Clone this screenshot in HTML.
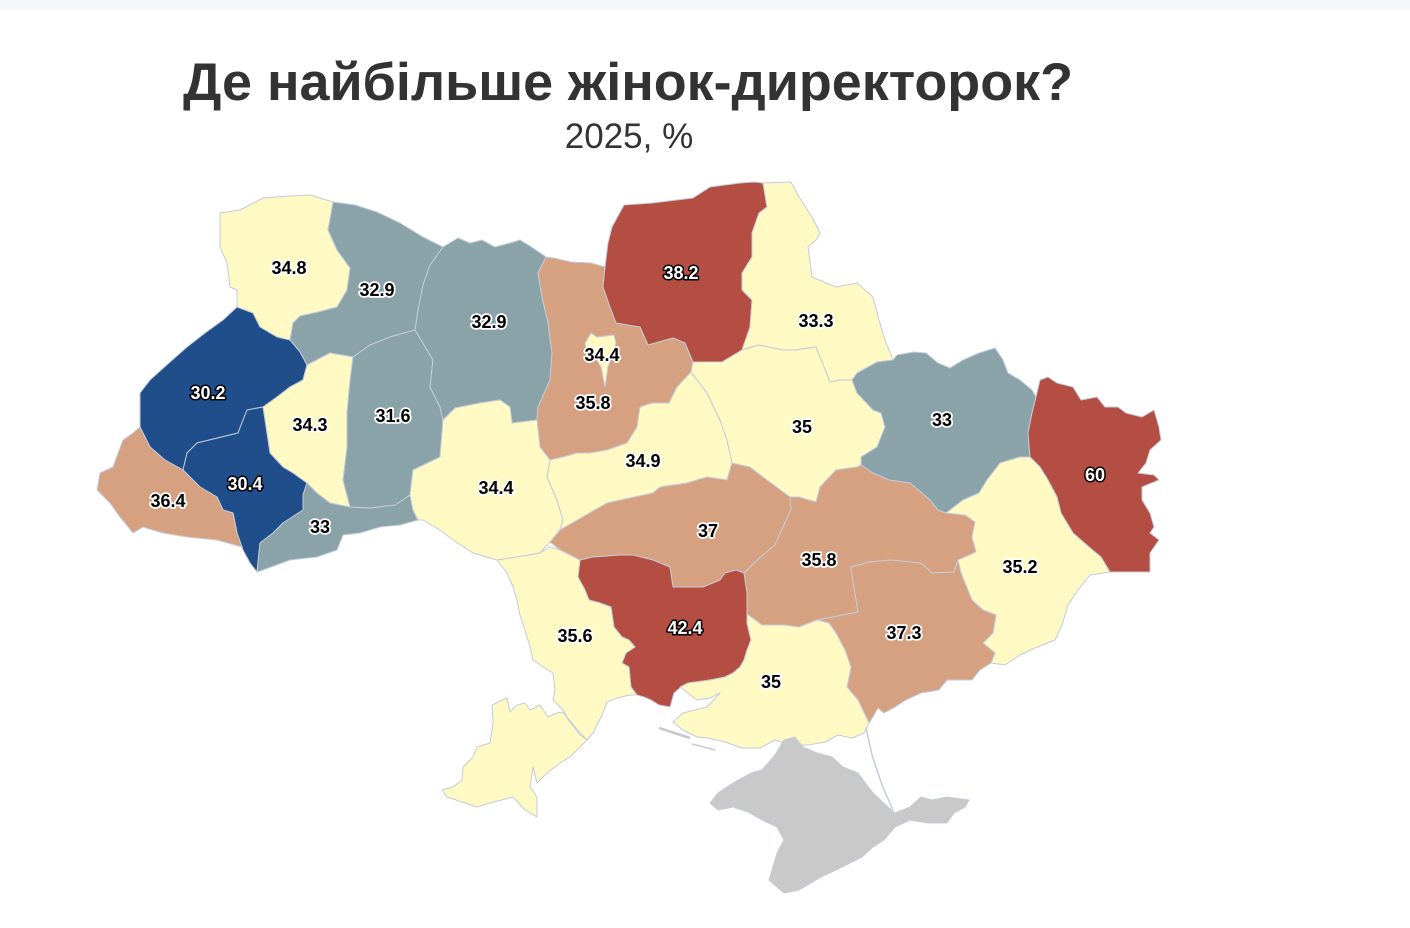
<!DOCTYPE html>
<html>
<head>
<meta charset="utf-8">
<style>
html,body{margin:0;padding:0;background:#fff;}
body{width:1410px;height:928px;overflow:hidden;position:relative;}
.topbar{position:absolute;left:0;top:0;width:1410px;height:10px;background:#f6f7f9;}
svg{position:absolute;left:0;top:0;}
.r{stroke:#c4cbd9;stroke-width:1;stroke-linejoin:round;}
.y{fill:#fff9c4;}
.g{fill:#8aa3a8;}
.b{fill:#1f4e8b;}
.t{fill:#d6a180;}
.d{fill:#b54e42;}
.c{fill:#c9c9c9;}
.lb{font-family:"Liberation Sans",Arial,sans-serif;font-weight:bold;font-size:18px;text-anchor:middle;paint-order:stroke;stroke-linejoin:round;}
.lk{fill:#000;stroke:#fff;stroke-width:3.5px;}
.lw{fill:#fff;stroke:#000;stroke-width:3px;}
</style>
</head>
<body>
<div class="topbar"></div>
<svg width="1410" height="928" viewBox="0 0 1410 928" xmlns="http://www.w3.org/2000/svg">
<text x="183" y="100" font-family="Liberation Sans, Arial, sans-serif" font-weight="bold" font-size="53" fill="#333" textLength="890" lengthAdjust="spacingAndGlyphs">Де найбільше жінок-директорок?</text>
<text x="629" y="148" font-family="Liberation Sans, Arial, sans-serif" font-size="35" fill="#333" text-anchor="middle">2025, %</text>

<!-- Volyn -->
<polygon class="r y" points="220,213 240,210 263,198 290,196 310,195 333,202 328,230 337,250 350,268 347,290 337,307 318,312 300,316 293,323 290,340 277,337 260,327 253,313 237,307 237,290 230,287 227,263 220,247"/>
<!-- Rivne -->
<polygon class="r g" points="333,202 355,205 377,212 400,223 423,237 443,247 430,265 423,285 418,310 415,330 390,337 370,345 353,357 330,353 307,365 300,352 290,340 293,323 300,316 318,312 337,307 347,290 350,268 337,250 328,230"/>
<!-- Lviv -->
<polygon class="r b" points="237,307 253,313 260,327 277,337 290,340 300,352 307,365 303,380 290,387 277,397 263,407 247,410 243,420 238,433 197,443 187,453 183,470 165,460 150,447 140,427 140,393 150,380 170,362 187,347 205,333 223,320"/>
<!-- Ternopil -->
<polygon class="r y" points="307,365 330,353 353,357 350,380 347,413 347,447 343,480 350,507 330,503 317,493 307,483 293,473 283,467 270,453 267,433 263,407 277,397 290,387 303,380"/>
<!-- Ivano-Frankivsk -->
<polygon class="r b" points="247,410 263,407 267,433 270,453 283,467 293,473 307,483 303,495 303,510 283,523 273,533 260,543 257,572 250,563 243,550 237,533 233,513 223,510 217,497 200,487 183,470 187,453 197,443 238,433 243,420"/>
<!-- Zakarpattia -->
<polygon class="r t" points="133,433 140,427 150,447 165,460 183,470 200,487 217,497 223,510 233,513 237,533 242,547 217,540 187,537 163,533 143,527 133,533 120,517 110,503 97,490 100,473 113,467 123,440"/>
<!-- Chernivtsi -->
<polygon class="r g" points="307,483 317,493 330,503 350,507 370,508 395,505 410,495 413,510 418,520 400,525 380,527 360,533 343,535 337,550 317,557 290,560 263,570 257,572 260,543 273,533 283,523 303,510 303,495"/>
<!-- Khmelnytskyi -->
<polygon class="r g" points="353,357 370,345 390,337 415,330 433,360 430,387 440,407 443,420 440,457 413,470 410,495 395,505 370,508 350,507 343,480 347,447 347,413 350,380"/>
<!-- Zhytomyr -->
<polygon class="r g" points="443,247 458,238 470,243 482,240 495,247 510,243 520,240 530,246 546,257 538,273 542,297 548,323 552,353 550,380 538,407 537,420 512,423 510,407 500,400 480,403 455,408 443,420 440,407 430,387 433,360 415,330 418,310 423,285 430,265"/>
<!-- Kyiv oblast -->
<polygon class="r t" points="546,257 554,258 571,262 591,263 605,267 603,287 610,307 616,323 640,327 648,345 673,338 685,343 693,362 691,372 677,387 669,403 652,403 640,407 637,427 627,443 607,450 590,453 577,453 563,457 550,460 540,447 537,420 538,407 550,380 552,353 548,323 542,297 538,273"/>
<!-- Kyiv city -->
<polygon class="r y" points="591,333 597,337 614,335 616,343 608,367 605,387 601,367 595,357 587,353 585,343"/>
<!-- Vinnytsia -->
<polygon class="r y" points="443,420 455,408 480,403 500,400 510,407 512,423 537,420 540,447 550,460 547,477 557,500 563,520 560,530 550,542 540,553 517,557 497,560 473,553 453,540 440,530 423,520 418,520 413,510 410,495 413,470 440,457"/>
<!-- Cherkasy -->
<polygon class="r y" points="550,460 563,457 577,453 590,453 607,450 627,443 637,427 640,407 652,403 669,403 677,387 691,372 707,393 720,420 727,440 732,463 727,480 707,477 687,483 660,487 653,493 607,503 600,507 560,530 563,520 557,500 547,477"/>
<!-- Kirovohrad -->
<polygon class="r t" points="560,530 600,507 607,503 653,493 660,487 687,483 707,477 727,480 732,463 750,467 767,480 790,497 791,510 783,527 775,545 763,555 752,565 744,573 736,570 725,573 720,580 703,587 673,587 670,567 653,560 633,555 620,555 593,557 580,560 570,555 560,550 550,542"/>
<!-- Chernihiv -->
<polygon class="r d" points="624,205 652,203 693,198 710,187 740,183 754,182 763,183 767,207 759,213 752,233 752,257 742,273 742,290 752,300 750,327 742,350 722,362 693,362 685,343 673,338 648,345 640,327 616,323 610,307 603,287 605,267 608,243 612,227"/>
<!-- Sumy -->
<polygon class="r y" points="763,183 791,182 799,197 812,217 820,233 816,240 808,247 812,277 836,287 857,283 873,297 879,320 885,340 893,360 877,362 857,373 852,380 840,380 830,382 824,367 816,347 795,350 783,350 759,345 742,350 750,327 752,300 742,290 742,273 752,257 752,233 759,213 767,207"/>
<!-- Poltava -->
<polygon class="r y" points="691,372 693,362 722,362 742,350 759,345 783,350 795,350 816,347 824,367 830,382 840,380 852,380 857,393 873,410 881,413 885,427 881,437 877,447 861,457 861,465 857,467 836,470 820,487 816,502 799,497 790,497 767,480 750,467 732,463 727,440 720,420 707,393"/>
<!-- Kharkiv -->
<polygon class="r g" points="852,380 857,373 877,362 893,360 897,355 914,352 926,353 938,363 950,368 963,360 979,353 995,348 1003,360 1008,373 1020,380 1032,390 1036,397 1032,413 1028,433 1030,457 1020,457 1000,463 987,480 979,493 963,500 946,513 938,510 930,500 922,493 910,483 889,480 873,473 861,465 861,457 877,447 881,437 885,427 881,413 873,410 857,393"/>
<!-- Luhansk -->
<polygon class="r d" points="1036,397 1040,380 1048,377 1057,383 1073,387 1081,400 1097,397 1105,407 1118,407 1126,413 1142,417 1154,410 1159,427 1161,440 1150,450 1146,463 1138,473 1154,475 1159,480 1142,487 1142,500 1150,513 1154,527 1150,533 1159,540 1150,553 1150,572 1110,572 1101,557 1089,547 1073,533 1061,513 1057,497 1048,480 1040,467 1030,457 1028,433 1032,413"/>
<!-- Dnipro -->
<polygon class="r t" points="816,502 820,487 836,470 857,467 861,465 873,473 889,480 910,483 922,493 930,500 938,510 946,513 965,515 975,522 972,537 976,552 958,560 954,572 932,573 921,563 891,560 869,562 851,567 854,587 858,612 817,620 799,627 784,625 762,625 747,614 747,593 744,573 752,565 763,555 775,545 783,527 791,510 790,497 799,497"/>
<!-- Donetsk -->
<polygon class="r y" points="1030,457 1040,467 1048,480 1057,497 1061,513 1073,533 1089,547 1101,557 1110,572 1090,575 1078,590 1068,605 1062,625 1055,640 1035,648 1020,655 1005,665 991,663 995,653 983,643 993,633 996,615 983,610 972,600 961,573 958,560 976,552 972,537 975,522 965,515 946,513 963,500 979,493 987,480 1000,463 1020,457"/>
<!-- Zaporizhzhia -->
<polygon class="r t" points="958,560 961,573 972,600 983,610 996,615 993,633 983,643 995,653 991,663 980,670 972,680 947,680 939,690 921,693 906,700 895,707 884,713 878,708 873,717 869,723 858,700 847,687 851,667 845,650 836,633 829,623 817,620 858,612 854,587 851,567 869,562 891,560 921,563 932,573 954,572"/>
<!-- Mykolaiv -->
<polygon class="r d" points="580,560 593,557 620,555 633,555 653,560 670,567 673,587 703,587 720,580 725,573 736,570 744,573 747,593 747,614 747,623 751,640 747,650 744,660 740,667 733,673 725,677 710,680 688,683 681,687 674,693 670,707 659,705 651,700 644,697 637,695 631,687 629,667 622,663 626,653 635,647 629,640 622,637 614,627 611,607 600,603 589,600 585,590 578,577"/>
<!-- Odesa main -->
<polygon class="r y" points="497,560 517,557 540,553 550,547 560,550 570,555 580,560 578,577 585,590 589,600 600,603 611,607 614,627 622,637 629,640 635,647 626,653 622,663 629,667 631,687 637,695 630,695 617,698 607,702 603,713 593,733 587,740 580,733 567,717 563,710 553,700 555,690 553,673 543,667 533,660 530,647 525,630 520,615 517,600 513,587 507,573"/>
<!-- Odesa Bessarabia -->
<polygon class="r y" points="492,705 507,698 510,712 517,705 525,703 530,710 540,705 548,717 557,713 563,712 570,722 580,735 587,740 570,757 560,763 547,773 537,783 533,767 530,787 537,797 537,817 525,810 513,797 490,803 477,807 447,797 442,790 453,787 462,780 463,767 473,757 477,747 490,743 493,723"/>
<!-- Kherson -->
<polygon class="r y" points="747,614 762,625 784,625 799,627 817,620 829,623 836,633 845,650 851,667 847,687 858,700 869,723 864,733 852,738 838,735 825,742 808,745 790,745 775,740 760,748 742,748 725,742 708,738 697,737 683,730 673,722 683,713 707,707 720,693 710,698 697,700 680,687 688,683 710,680 725,677 733,673 740,667 744,660 747,650 751,640 747,623"/>
<!-- Tendra spit -->
<line x1="659" y1="728" x2="690" y2="738" stroke="#c9c9c9" stroke-width="2.5"/>
<line x1="692" y1="744" x2="715" y2="750" stroke="#c4cbd9" stroke-width="1.5"/>
<!-- Arabat spit -->
<polyline points="866,728 872,755 882,785 893,810" fill="none" stroke="#c4cbd9" stroke-width="1.5"/>
<!-- Crimea -->
<polygon class="r c" points="710,803 718,793 733,783 751,773 762,770 775,755 784,740 795,737 803,747 817,753 832,757 843,767 858,773 873,793 888,807 895,813 910,807 921,797 932,800 947,797 969,800 965,807 954,813 947,823 928,823 910,820 895,827 884,840 873,847 862,857 836,870 821,877 799,890 784,893 777,887 769,880 773,867 777,853 784,840 777,827 762,820 748,812 733,807 718,810"/>

<!-- labels -->
<text class="lb lk" x="289" y="274">34.8</text>
<text class="lb lk" x="377" y="296">32.9</text>
<text class="lb lk" x="489" y="328">32.9</text>
<text class="lb lw" x="208" y="399">30.2</text>
<text class="lb lk" x="310" y="431">34.3</text>
<text class="lb lk" x="393" y="422">31.6</text>
<text class="lb lw" x="245" y="490">30.4</text>
<text class="lb lk" x="168" y="507">36.4</text>
<text class="lb lk" x="320" y="533">33</text>
<text class="lb lk" x="496" y="494">34.4</text>
<text class="lb lk" x="602" y="361">34.4</text>
<text class="lb lk" x="593" y="409">35.8</text>
<text class="lb lw" x="681" y="279">38.2</text>
<text class="lb lk" x="816" y="327">33.3</text>
<text class="lb lk" x="802" y="433">35</text>
<text class="lb lk" x="643" y="467">34.9</text>
<text class="lb lk" x="708" y="537">37</text>
<text class="lb lk" x="942" y="426">33</text>
<text class="lb lw" x="1095" y="481">60</text>
<text class="lb lk" x="819" y="566">35.8</text>
<text class="lb lk" x="1020" y="573">35.2</text>
<text class="lb lk" x="904" y="639">37.3</text>
<text class="lb lw" x="685" y="634">42.4</text>
<text class="lb lk" x="575" y="642">35.6</text>
<text class="lb lk" x="771" y="688">35</text>
</svg>
</body>
</html>
